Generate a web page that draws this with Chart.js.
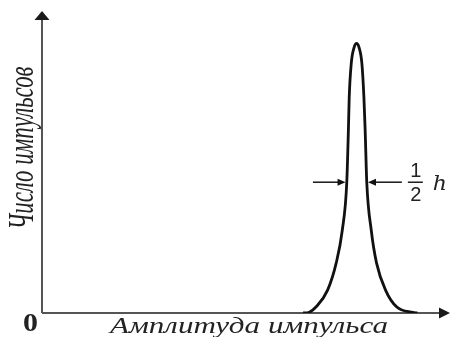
<!DOCTYPE html>
<html>
<head>
<meta charset="utf-8">
<script src="https://cdn.jsdelivr.net/npm/chart.js@4.4.0/dist/chart.umd.min.js"></script>
<style>
  html, body { margin: 0; padding: 0; background: #fff; }
  canvas { display: block; }
</style>
</head>
<body>
<canvas id="pulseChart" width="452" height="337"></canvas>
<script>
// --- Data ---
const amplitude = [64, 65.5, 67.2, 70.0, 72.1, 73.6, 74.7, 75.1, 75.3, 75.8, 76.5, 77.1, 77.7, 78.4, 78.9, 79.2, 79.6, 80.7, 82.0, 84.2, 86.9, 90.9, 92];
const counts    = [0, 0.3, 2.3, 8.5, 18.5, 30.7, 48.5, 68, 80, 92.6, 98.5, 100, 98.5, 92.6, 80, 68, 48.5, 30.7, 18.5, 8.5, 2.3, 0.2, 0];

// half-height marker: level, left arrow [tail, tip], right arrow [tail, tip]
const halfLevel = [48.5];
const halfArrowLeft = [66.4, 74.4];
const halfArrowRight = [88.2, 79.9];

const xTitle = 'Амплитуда импульса';
const yTitle = 'Число импульсов';
const originLabel = '0';

const SERIF = '"Liberation Serif", "Times New Roman", serif';
const SANS = '"Liberation Sans", Arial, sans-serif';

// --- Helpers ---
function arrowHead(ctx, tipX, tipY, dirX, dirY, len, half) {
  const bx = tipX - dirX * len, by = tipY - dirY * len;
  const nx = -dirY, ny = dirX;
  ctx.beginPath();
  ctx.moveTo(tipX, tipY);
  ctx.lineTo(bx + nx * half, by + ny * half);
  ctx.lineTo(bx - nx * half, by - ny * half);
  ctx.closePath();
  ctx.fill();
}

function stretchedText(ctx, text, x, y, font, opts) {
  ctx.save();
  ctx.translate(x, y);
  if (opts.angle) ctx.rotate(opts.angle);
  ctx.font = font;
  let sx = opts.sx || 1;
  if (opts.length) sx = opts.length / ctx.measureText(text).width;
  ctx.scale(sx, opts.sy || 1);
  ctx.textAlign = opts.align || 'center';
  ctx.textBaseline = opts.baseline || 'alphabetic';
  ctx.fillText(text, 0, 0);
  ctx.restore();
}

// axes with arrows, drawn from the chart scales
const axesPlugin = {
  id: 'axesArrows',
  beforeDatasetsDraw(chart) {
    const { ctx, scales: { x, y } } = chart;
    const x0 = x.getPixelForValue(0), x1 = x.getPixelForValue(100);
    const y0 = y.getPixelForValue(0), y1 = y.getPixelForValue(112);
    ctx.save();
    ctx.strokeStyle = '#555';
    ctx.lineWidth = 2;
    ctx.beginPath();
    ctx.moveTo(x0, y0);
    ctx.lineTo(x0, y1 + 8);
    ctx.moveTo(x0, y0);
    ctx.lineTo(x1 - 10, y0);
    ctx.stroke();
    ctx.fillStyle = '#1a1a1a';
    arrowHead(ctx, x0, y1, 0, -1, 9, 7.5);
    arrowHead(ctx, x1, y0, 1, 0, 11, 5.5);
    ctx.restore();
  },
  afterDatasetsDraw(chart) {
    const { ctx, scales: { x, y } } = chart;
    const yl = y.getPixelForValue(halfLevel[0]);
    ctx.save();
    ctx.strokeStyle = '#222';
    ctx.fillStyle = '#111';
    ctx.lineWidth = 1.6;
    [halfArrowLeft, halfArrowRight].forEach(a => {
      const tail = x.getPixelForValue(a[0]), tip = x.getPixelForValue(a[1]);
      const dir = tip > tail ? 1 : -1;
      ctx.beginPath();
      ctx.moveTo(tail, yl);
      ctx.lineTo(tip - dir * 6, yl);
      ctx.stroke();
      arrowHead(ctx, tip, yl, dir, 0, 8, 3.5);
    });

    // texts
    ctx.fillStyle = '#222';
    stretchedText(ctx, yTitle, 33, 148, 'italic 24px ' + SERIF, { angle: -Math.PI / 2, length: 163, sy: 1.45 });
    stretchedText(ctx, xTitle, 249, 333, 'italic 24px ' + SERIF, { length: 278 });
    stretchedText(ctx, originLabel, 30.5, 324, 'bold 26px ' + SERIF, { sx: 1.15, baseline: 'middle' });

    const fx = x.getPixelForValue(halfArrowRight[0]) + 14;
    stretchedText(ctx, '1', fx, yl - 11, '20px ' + SANS, { baseline: 'middle' });
    stretchedText(ctx, '2', fx, yl + 13, '20px ' + SANS, { baseline: 'middle' });
    ctx.strokeStyle = '#222';
    ctx.lineWidth = 1.5;
    ctx.beginPath();
    ctx.moveTo(fx - 8, yl);
    ctx.lineTo(fx + 7, yl);
    ctx.stroke();
    stretchedText(ctx, 'h', fx + 24, yl + 8, 'italic 21px "DejaVu Serif", serif', { sx: 1.05 });
    ctx.restore();
  }
};

function drawChart() {
  new Chart(document.getElementById('pulseChart'), {
    type: 'line',
    data: {
      datasets: [{
        data: amplitude.map((a, i) => ({ x: a, y: counts[i] })),
        borderColor: '#111',
        borderWidth: 2.8,
        pointRadius: 0,
        fill: false,
        cubicInterpolationMode: 'monotone'
      }]
    },
    options: {
      responsive: false,
      animation: false,
      devicePixelRatio: 1,
      layout: { padding: { left: 42, right: 2, top: 11, bottom: 24 } },
      plugins: { legend: { display: false }, tooltip: { enabled: false } },
      scales: {
        x: { type: 'linear', min: 0, max: 100, display: false },
        y: { min: 0, max: 112, display: false }
      }
    },
    plugins: [axesPlugin]
  });
}

// make sure the system fonts are ready before drawing on canvas
Promise.all([
  document.fonts.load('italic 24px "Liberation Serif"', 'Чh'),
  document.fonts.load('bold 26px "Liberation Serif"', '0'),
  document.fonts.load('20px "Liberation Sans"', '12'),
  document.fonts.load('italic 21px "DejaVu Serif"', 'h')
]).catch(() => {}).then(drawChart);
</script>
</body>
</html>
